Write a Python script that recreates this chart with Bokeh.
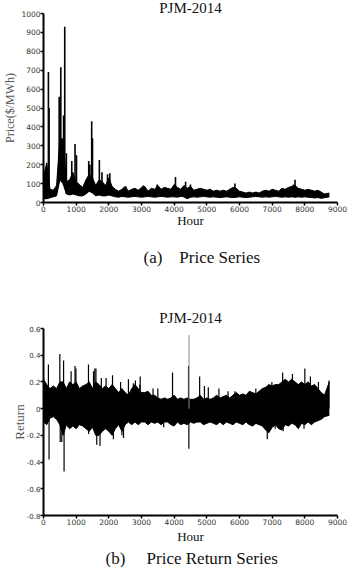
import numpy as np
from bokeh.plotting import figure
from bokeh.layouts import column
from bokeh.models import Range1d, FixedTicker, Title
from bokeh.embed import file_html
from bokeh.resources import INLINE

SERIF = "Liberation Serif"
SANS = "DejaVu Sans"
NB = "\u00a0"

# ---------------- data ----------------
hours = list(range(0, 8700, 100)) + [8750]

price_hi = [140, 210, 70, 65, 90, 340, 330, 110, 120, 160,
            110, 95, 80, 120, 150, 130, 90, 120, 110, 90,
            130, 85, 70, 60, 70, 85, 60, 70, 75, 65,
            80, 85, 60, 75, 70, 90, 70, 80, 75, 70,
            95, 80, 70, 90, 75, 85, 65, 70, 75, 70,
            65, 70, 60, 65, 60, 65, 60, 70, 80, 75,
            60, 55, 50, 55, 50, 55, 50, 60, 65, 60,
            70, 65, 60, 75, 70, 80, 85, 90, 75, 70,
            65, 70, 65, 60, 65, 55, 45, 50]
price_lo = [20, 20, 25, 30, 35, 120, 100, 45, 40, 45,
            40, 35, 35, 45, 60, 50, 35, 40, 35, 35,
            40, 35, 30, 28, 32, 30, 28, 30, 32, 30,
            28, 30, 32, 30, 28, 30, 32, 30, 28, 30,
            30, 28, 32, 30, 20, 28, 30, 28, 30, 32,
            30, 28, 30, 28, 26, 28, 30, 28, 26, 28,
            30, 28, 26, 28, 30, 32, 30, 28, 30, 28,
            30, 32, 30, 28, 30, 28, 30, 28, 30, 28,
            30, 28, 26, 24, 26, 22, 25, 30]
price_spike_hours = [60, 150, 170, 480, 530, 570, 615, 650, 700, 865, 965, 1010,
                     1385, 1420, 1475, 1500, 1710, 1790, 1960, 2030, 2520, 3050,
                     3480, 4040, 4350, 4500, 5860, 7650, 7700]
price_spike_values = [150, 690, 500, 560, 715, 340, 460, 930, 260, 220, 310, 250,
                      220, 200, 430, 340, 225, 160, 150, 155, 85, 90,
                      95, 135, 110, 95, 100, 95, 120]

ret_hi = [0.22, 0.18, 0.15, 0.17, 0.15, 0.20, 0.20, 0.15, 0.20, 0.18,
          0.20, 0.15, 0.17, 0.18, 0.20, 0.15, 0.20, 0.18, 0.15, 0.17,
          0.15, 0.18, 0.15, 0.12, 0.15, 0.12, 0.10, 0.15, 0.18, 0.15,
          0.12, 0.12, 0.13, 0.10, 0.10, 0.08, 0.07, 0.08, 0.07, 0.08,
          0.10, 0.07, 0.08, 0.07, 0.08, 0.07, 0.07, 0.08, 0.10, 0.07,
          0.08, 0.07, 0.08, 0.10, 0.08, 0.09, 0.10, 0.08, 0.10, 0.12,
          0.10, 0.11, 0.10, 0.13, 0.12, 0.11, 0.13, 0.15, 0.16, 0.18,
          0.17, 0.18, 0.18, 0.20, 0.22, 0.20, 0.22, 0.20, 0.18, 0.20,
          0.18, 0.20, 0.17, 0.18, 0.15, 0.12, 0.10, 0.20]
ret_lo = [-0.10, -0.12, -0.07, -0.06, -0.08, -0.12, -0.20, -0.12, -0.15, -0.13,
          -0.15, -0.12, -0.13, -0.15, -0.17, -0.14, -0.20, -0.20, -0.17, -0.15,
          -0.17, -0.20, -0.15, -0.12, -0.17, -0.12, -0.10, -0.12, -0.10, -0.12,
          -0.10, -0.10, -0.12, -0.10, -0.11, -0.10, -0.12, -0.10, -0.10, -0.12,
          -0.13, -0.10, -0.12, -0.11, -0.12, -0.10, -0.11, -0.10, -0.10, -0.12,
          -0.11, -0.10, -0.11, -0.12, -0.10, -0.12, -0.10, -0.11, -0.12, -0.10,
          -0.11, -0.12, -0.10, -0.12, -0.13, -0.11, -0.12, -0.13, -0.16, -0.18,
          -0.14, -0.12, -0.15, -0.16, -0.12, -0.13, -0.11, -0.12, -0.15, -0.11,
          -0.12, -0.10, -0.12, -0.10, -0.09, -0.08, -0.06, -0.05]
ret_spike_hours = [150, 170, 500, 512, 560, 615, 630, 845, 965, 993, 1377, 1380, 1530,
                   1570, 1605, 1630, 1730, 1770, 1917, 2113, 2140, 2360, 2400, 2450,
                   2600, 2750, 2813, 2950, 2960, 3353, 3500, 3680, 3950, 4440, 4450,
                   4780, 4927, 5045, 5370, 5650, 5860, 6057, 6500, 6850, 6992, 7090,
                   7320, 7336, 7620, 7975, 8000, 8170, 8416, 8740]
ret_spike_values = [0.33, -0.38, 0.41, -0.25, -0.25, 0.36, -0.47, 0.28, 0.32, 0.30, 0.33, -0.19, 0.28,
                    0.30, 0.30, -0.27, -0.28, 0.23, 0.23, 0.25, -0.23, 0.20, -0.20, -0.22,
                    0.22, 0.19, 0.21, 0.18, 0.24, 0.15, 0.15, -0.14, 0.27, 0.32, -0.30,
                    0.24, 0.17, 0.16, 0.15, 0.13, 0.13, 0.10, 0.15, -0.23, 0.20, -0.15,
                    0.27, -0.17, 0.26, -0.15, 0.30, 0.24, 0.20, 0.21]
ret_gray_spike_hours = [4455]
ret_gray_spike_values = [0.55]

x_ticks = [0, 1000, 2000, 3000, 4000, 5000, 6000, 7000, 8000, 9000]
price_ticks = [0, 100, 200, 300, 400, 500, 600, 700, 800, 900, 1000]
ret_ticks = [-0.8, -0.6, -0.4, -0.2, 0, 0.2, 0.4, 0.6]
ret_tick_labels = ["-0.8", "-0.6", "-0.4", "-0.2", "0", "0.2", "0.4", "0.6"]


def style(p, yticks, ylabel, ylabel_size, yl_standoff, xl_standoff, ytick_size):
    p.outline_line_color = None
    p.xgrid.visible = False
    p.ygrid.visible = False
    p.background_fill_color = "white"
    p.border_fill_color = "white"
    for ax in (p.xaxis[0], p.yaxis[0]):
        ax.axis_line_width = 2
        ax.axis_line_color = "black"
        ax.major_tick_line_width = 1.5
        ax.major_tick_line_color = "black"
        ax.major_tick_out = 3
        ax.major_tick_in = 0
        ax.minor_tick_line_color = None
        ax.major_label_text_font = SANS
        ax.major_label_text_font_size = "7.5px"
        ax.major_label_text_color = "#333333"
        ax.major_label_standoff = 0
        ax.axis_label_text_font = SERIF
        ax.axis_label_text_font_style = "normal"
    p.yaxis.major_label_text_font_size = ytick_size
    p.xaxis.ticker = FixedTicker(ticks=x_ticks)
    p.yaxis.ticker = FixedTicker(ticks=yticks)
    p.xaxis.axis_label = "Hour"
    p.xaxis.axis_label_text_font_size = "13px"
    p.xaxis.axis_label_text_color = "#111111"
    p.xaxis.axis_label_standoff = xl_standoff
    p.yaxis.axis_label = ylabel
    p.yaxis.axis_label_text_font_size = ylabel_size
    p.yaxis.axis_label_text_color = "#555555"
    p.yaxis.axis_label_standoff = yl_standoff


def titles(p, head, caption, cap_offset, cap_standoff, head_standoff, head_lh):
    p.title.text = head
    p.title.align = "center"
    p.title.text_font = SERIF
    p.title.text_font_size = "15px"
    p.title.text_font_style = "normal"
    p.title.text_color = "#111111"
    p.title.standoff = head_standoff
    p.title.text_line_height = head_lh
    p.add_layout(Title(text=caption, align="left", offset=cap_offset, standoff=cap_standoff,
                       text_font=SERIF, text_font_size="17px", text_font_style="normal",
                       text_color="#111111"), "below")


# ---------------- top panel ----------------
p1 = figure(width=353, height=283, x_range=Range1d(0, 9000), y_range=Range1d(0, 1000),
            output_backend="svg", toolbar_location=None,
            min_border_left=42, min_border_right=16, min_border_top=0, min_border_bottom=81)
style(p1, price_ticks, "Price($/MWh)", "12px", 1, -2, "7.5px")
titles(p1, "PJM-2014", "(a)" + NB * 4 + "Price Series", 100, 30, -5, 0.6)

p1.varea(x=hours, y1=price_lo, y2=price_hi, fill_color="black")
p1.line(hours, price_hi, line_color="black", line_width=1)
p1.line(hours, price_lo, line_color="black", line_width=1)
p_base = np.interp(price_spike_hours, hours, price_lo)
p1.segment(x0=price_spike_hours, y0=p_base, x1=price_spike_hours, y1=price_spike_values,
           line_color="black", line_width=1.6)

# ---------------- bottom panel ----------------
p2 = figure(width=353, height=284, x_range=Range1d(0, 9000), y_range=Range1d(-0.8, 0.6),
            output_backend="svg", toolbar_location=None,
            min_border_left=38, min_border_right=10, min_border_top=45, min_border_bottom=47)
style(p2, ret_ticks, "Return", "13px", -3, 1, "7px")
p2.yaxis.major_label_overrides = dict(zip(ret_ticks, ret_tick_labels))
titles(p2, "PJM-2014", "(b)" + NB * 5 + "Price Return Series", 62, 0, 5, 0.8)

p2.varea(x=hours, y1=ret_lo, y2=ret_hi, fill_color="black")
p2.line(hours, ret_hi, line_color="black", line_width=1)
p2.line(hours, ret_lo, line_color="black", line_width=1)
p2.segment(x0=ret_spike_hours, y0=[0] * len(ret_spike_hours), x1=ret_spike_hours,
           y1=ret_spike_values, line_color="black", line_width=1.2)
p2.segment(x0=ret_gray_spike_hours, y0=[0] * len(ret_gray_spike_hours), x1=ret_gray_spike_hours,
           y1=ret_gray_spike_values, line_color="#888888", line_width=1)

layout = column(p1, p2, spacing=0)
open("out.html", "w").write(file_html(layout, INLINE))
